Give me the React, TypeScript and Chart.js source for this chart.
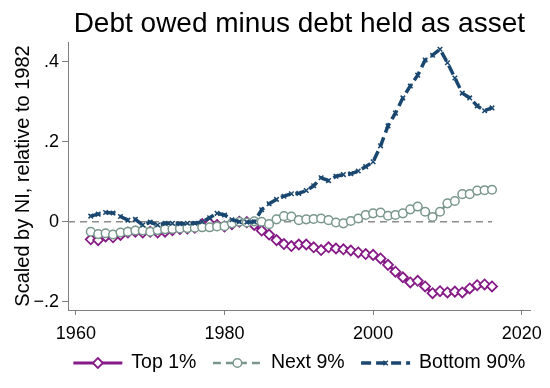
import React, { useEffect, useRef } from 'react';
import { Chart, registerables } from 'chart.js';

Chart.register(...registerables);

const years = [
  1962, 1963, 1964, 1965, 1966, 1967, 1968, 1969, 1970, 1971,
  1972, 1973, 1974, 1975, 1976, 1977, 1978, 1979, 1980, 1981,
  1982, 1983, 1984, 1985, 1986, 1987, 1988, 1989, 1990, 1991,
  1992, 1993, 1994, 1995, 1996, 1997, 1998, 1999, 2000, 2001,
  2002, 2003, 2004, 2005, 2006, 2007, 2008, 2009, 2010, 2011,
  2012, 2013, 2014, 2015, 2016,
];

const top1 = [
  -0.044, -0.046, -0.037, -0.039, -0.033, -0.027, -0.025, -0.027, -0.025, -0.027,
  -0.025, -0.021, -0.018, -0.017, -0.015, -0.006, -0.004, -0.008, -0.012, -0.006,
  0.0, -0.001, -0.008, -0.022, -0.032, -0.046, -0.056, -0.061, -0.057, -0.057,
  -0.064, -0.071, -0.064, -0.067, -0.069, -0.072, -0.077, -0.081, -0.083, -0.092,
  -0.108, -0.125, -0.139, -0.152, -0.148, -0.162, -0.179, -0.174, -0.177, -0.175,
  -0.177, -0.167, -0.159, -0.157, -0.162,
];

const next9 = [
  -0.025, -0.031, -0.029, -0.032, -0.027, -0.025, -0.022, -0.022, -0.025, -0.021,
  -0.019, -0.018, -0.017, -0.016, -0.015, -0.014, -0.014, -0.012, -0.011, -0.004,
  0.0, -0.002, 0.001, 0.0, -0.006, 0.006, 0.014, 0.013, 0.004, 0.006,
  0.007, 0.008, 0.004, -0.002, -0.004, 0.002, 0.008, 0.017, 0.021, 0.023,
  0.015, 0.017, 0.021, 0.031, 0.038, 0.025, 0.012, 0.025, 0.046, 0.052,
  0.069, 0.069, 0.078, 0.079, 0.08,
];

const bottom90 = [
  0.014, 0.019, 0.023, 0.022, 0.013, 0.004, 0.006, -0.008, -0.001, -0.008,
  -0.004, -0.004, -0.005, -0.004, -0.004, 0.0, 0.01, 0.021, 0.017, 0.005,
  0.0, -0.001, 0.0, 0.03, 0.045, 0.056, 0.064, 0.07, 0.071, 0.078,
  0.09, 0.11, 0.103, 0.114, 0.118, 0.12, 0.127, 0.138, 0.15, 0.19,
  0.24, 0.272, 0.31, 0.34, 0.367, 0.405, 0.417, 0.432, 0.398, 0.36,
  0.322, 0.31, 0.29, 0.278, 0.285,
];

const seriesLabels = ['Top 1%', 'Next 9%', 'Bottom 90%'];
const xTicks = [1960, 1980, 2000, 2020];
const yTicks = [-0.2, 0, 0.2, 0.4];
const yTickLabels = ['\u2212.2', '0', '.2', '.4'];
const X_MIN = 1958.94;
const X_MAX = 2021.2;
const Y_MIN = -0.221;
const Y_MAX = 0.45;
const zeroLineX = [X_MIN, 2016];
const zeroLineY = [0, 0];

const TITLE = 'Debt owed minus debt held as asset';
const Y_TITLE = 'Scaled by NI, relative to 1982';

const FONT = "'Liberation Sans', Arial, Helvetica, sans-serif";
const PURPLE = '#861A86';
const TEAL = '#7A978C';
const NAVY = '#1A476F';
const ZERO = '#8C8C8C';
const AXIS = '#7F7F7F';

function drawMarker(ctx: CanvasRenderingContext2D, style: string, x: number, y: number, r: number, bw: number, stroke: string, fill: string) {
  ctx.save();
  ctx.setLineDash([]);
  ctx.lineWidth = bw;
  ctx.strokeStyle = stroke;
  ctx.fillStyle = fill;
  ctx.beginPath();
  if (style === 'rectRot') {
    ctx.moveTo(x, y - r);
    ctx.lineTo(x + r, y);
    ctx.lineTo(x, y + r);
    ctx.lineTo(x - r, y);
    ctx.closePath();
    ctx.fill();
    ctx.stroke();
  } else if (style === 'circle') {
    ctx.arc(x, y, r, 0, Math.PI * 2);
    ctx.fill();
    ctx.stroke();
  } else if (style === 'crossRot') {
    const d = r * Math.SQRT1_2;
    ctx.moveTo(x - d, y - d);
    ctx.lineTo(x + d, y + d);
    ctx.moveTo(x - d, y + d);
    ctx.lineTo(x + d, y - d);
    ctx.stroke();
  }
  ctx.restore();
}

const titlePlugin = {
  id: 'stataTitle',
  afterDraw(chart: any) {
    const ctx: CanvasRenderingContext2D = chart.ctx;
    const area = chart.chartArea;
    ctx.save();
    ctx.font = `28px ${FONT}`;
    ctx.fillStyle = '#000';
    ctx.textAlign = 'center';
    ctx.textBaseline = 'alphabetic';
    ctx.fillText(TITLE, (area.left + area.right) / 2, area.top - 10.5);
    ctx.restore();
  },
};

const legendPlugin = {
  id: 'stataLegend',
  afterDraw(chart: any) {
    const ctx: CanvasRenderingContext2D = chart.ctx;
    const area = chart.chartArea;
    const items = chart.data.datasets.filter((d: any) => seriesLabels.includes(d.label));
    items.sort((a: any, b: any) => seriesLabels.indexOf(a.label) - seriesLabels.indexOf(b.label));
    const symW = 49;
    const gapSymText = 9;
    const gapItems = 16.5;
    ctx.save();
    ctx.font = `19.5px ${FONT}`;
    const widths = items.map((d: any) => ctx.measureText(d.label).width);
    let total = 0;
    widths.forEach((w: number, i: number) => {
      total += symW + gapSymText + w + (i < widths.length - 1 ? gapItems : 0);
    });
    let x = (area.left + area.right) / 2 - total / 2;
    const y = area.bottom + 53;
    items.forEach((d: any, i: number) => {
      ctx.save();
      ctx.strokeStyle = d.borderColor;
      ctx.lineWidth = d.borderWidth;
      ctx.setLineDash(d.borderDash || []);
      ctx.beginPath();
      ctx.moveTo(x, y);
      ctx.lineTo(x + symW, y);
      ctx.stroke();
      ctx.restore();
      drawMarker(ctx, d.pointStyle, x + symW / 2, y, d.pointRadius, d.pointBorderWidth, d.pointBorderColor, d.pointBackgroundColor);
      ctx.fillStyle = '#000';
      ctx.textBaseline = 'middle';
      ctx.textAlign = 'left';
      ctx.fillText(d.label, x + symW + gapSymText, y);
      x += symW + gapSymText + widths[i] + gapItems;
    });
    ctx.restore();
  },
};

export default function App() {
  const canvasRef = useRef<HTMLCanvasElement | null>(null);

  useEffect(() => {
    if (!canvasRef.current) return;
    const pts = (vals: number[]) => years.map((yr, i) => ({ x: yr, y: vals[i] }));
    const chart = new Chart(canvasRef.current, {
      type: 'line',
      data: {
        datasets: [
          {
            label: 'zero',
            data: zeroLineX.map((xv, i) => ({ x: xv, y: zeroLineY[i] })),
            borderColor: ZERO,
            borderWidth: 1.5,
            borderDash: [7, 5],
            pointRadius: 0,
            order: 4,
          },
          {
            label: seriesLabels[0],
            data: pts(top1),
            borderColor: PURPLE,
            borderWidth: 3,
            pointStyle: 'rectRot',
            pointRadius: 5,
            pointBorderWidth: 1.8,
            pointBorderColor: PURPLE,
            pointBackgroundColor: '#ffffff',
            order: 3,
          },
          {
            label: seriesLabels[1],
            data: pts(next9),
            borderColor: TEAL,
            borderWidth: 2.5,
            borderDash: [8, 5],
            pointStyle: 'circle',
            pointRadius: 4.3,
            pointBorderWidth: 1.5,
            pointBorderColor: TEAL,
            pointBackgroundColor: '#ffffff',
            order: 2,
          },
          {
            label: seriesLabels[2],
            data: pts(bottom90),
            borderColor: NAVY,
            borderWidth: 3.5,
            borderDash: [10, 5],
            pointStyle: 'crossRot',
            pointRadius: 3.2,
            pointBorderWidth: 1.5,
            pointBorderColor: NAVY,
            pointBackgroundColor: NAVY,
            order: 1,
          },
        ] as any,
      },
      options: {
        animation: false,
        responsive: false,
        events: [],
        devicePixelRatio: 1,
        layout: { padding: { left: 0, right: 12, top: 42, bottom: 38 } },
        elements: { line: { tension: 0 } },
        plugins: {
          legend: { display: false },
          tooltip: { enabled: false },
          title: { display: false },
        },
        scales: {
          x: {
            type: 'linear',
            min: X_MIN,
            max: X_MAX,
            bounds: 'data',
            afterBuildTicks: (scale: any) => {
              scale.ticks = xTicks.map((v) => ({ value: v }));
            },
            afterFit: (scale: any) => {
              scale.height = 40;
            },
            grid: {
              display: true,
              drawOnChartArea: false,
              drawTicks: true,
              tickLength: 5,
              color: AXIS,
              lineWidth: 1,
            },
            border: { display: true, color: AXIS, width: 1 },
            ticks: {
              padding: 8,
              color: '#000',
              maxRotation: 0,
              autoSkip: false,
              font: { family: FONT, size: 18 },
              callback: (v: any) => String(v),
            },
          },
          y: {
            type: 'linear',
            min: Y_MIN,
            max: Y_MAX,
            bounds: 'data',
            afterBuildTicks: (scale: any) => {
              scale.ticks = yTicks.map((v) => ({ value: v }));
            },
            afterFit: (scale: any) => {
              scale.width = 68;
            },
            grid: {
              display: true,
              drawOnChartArea: false,
              drawTicks: true,
              tickLength: 6,
              color: AXIS,
              lineWidth: 1,
            },
            border: { display: true, color: AXIS, width: 1 },
            ticks: {
              padding: 3,
              color: '#000',
              autoSkip: false,
              font: { family: FONT, size: 18 },
              callback: (v: any) => {
                const i = yTicks.indexOf(Number(v));
                return i >= 0 ? yTickLabels[i] : '';
              },
            },
            title: {
              display: true,
              text: Y_TITLE,
              color: '#000',
              font: { family: FONT, size: 20 },
              padding: { top: 11, bottom: 0 },
            },
          },
        },
      } as any,
      plugins: [titlePlugin, legendPlugin],
    });
    return () => chart.destroy();
  }, []);

  return (
    <div style={{ position: 'absolute', left: 0, top: 0, width: 550, height: 388, background: '#fff' }}>
      <canvas ref={canvasRef} width={550} height={388} style={{ display: 'block', width: 550, height: 388 }} />
    </div>
  );
}
